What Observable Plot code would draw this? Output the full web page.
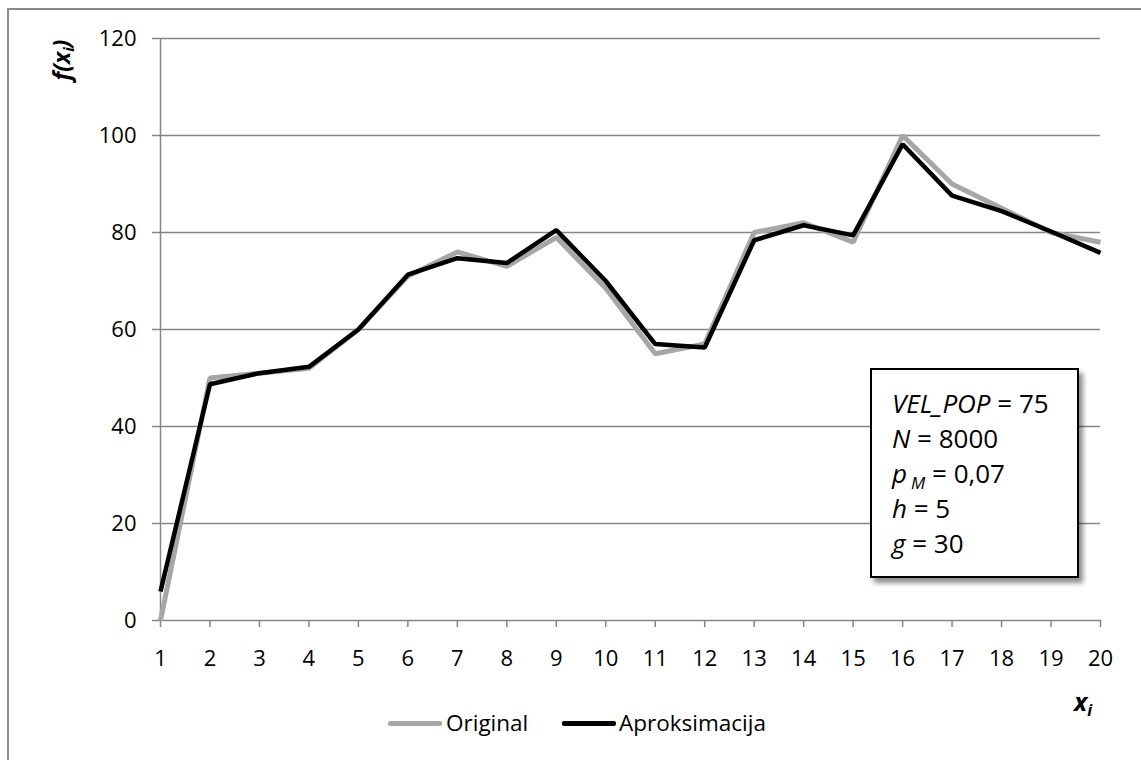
<!DOCTYPE html>
<html>
<head>
<meta charset="utf-8">
<script src="https://cdn.jsdelivr.net/npm/d3@7"></script>
<script src="https://cdn.jsdelivr.net/npm/@observablehq/plot@0.6"></script>
<style>
  html, body { margin: 0; padding: 0; background: #fff; }
  #wrap { position: relative; width: 1141px; height: 760px; overflow: hidden; font-family: "Open Sans", sans-serif; }
  #border { position: absolute; left: 7px; top: 8px; width: 1200px; height: 800px; border-left: 2px solid #8a8a8a; border-top: 2px solid #8a8a8a; }
  #chart { position: absolute; left: 0; top: 0; }
  .ylab { position: absolute; left: 61px; top: 60px; transform: translate(-50%, -50%) rotate(-90deg); font-weight: bold; font-style: italic; font-size: 23px; white-space: nowrap; color: #000; }
  .xlab { position: absolute; left: 1074px; top: 684px; font-weight: bold; font-style: italic; font-size: 25px; color: #000; }
  sub { font-size: 65%; vertical-align: -0.3em; line-height: 0; }
  #info .pm { display: inline-block; line-height: 26px; }
  #info .sm { display: inline-block; font-size: 17px; line-height: 17px; vertical-align: -6px; margin-left: 4px; font-style: italic; }
  #info { position: absolute; left: 870px; top: 368px; width: 205px; height: 206px; border: 2px solid #000; background: #fff; box-shadow: 4px 5px 5px rgba(0,0,0,0.45); box-sizing: content-box; }
  #info div { font-size: 26px; line-height: 35px; padding-left: 20px; white-space: nowrap; color: #000; }
  #info div:first-child { margin-top: 16px; }
  .leg { position: absolute; top: 708px; font-size: 22.5px; color: #000; line-height: 30px; }
  .sw { position: absolute; top: 721px; width: 54px; height: 5px; border-radius: 2px; }
</style>
</head>
<body>
<div id="wrap">
  <div id="border"></div>
  <div id="chart"></div>
  <div class="ylab">f(x<sub>i</sub>)</div>
  <div class="xlab">x<sub>i</sub></div>
  <div id="info">
    <div><i>VEL_POP</i> = 75</div>
    <div><i>N</i> = 8000</div>
    <div><i class="pm">p</i><span class="sm">M</span> = 0,07</div>
    <div><i>h</i> = 5</div>
    <div><i>g</i> = 30</div>
  </div>
  <span class="sw" style="left:388px;background:#a6a6a6"></span><span class="leg" style="left:446px">Original</span>
  <span class="sw" style="left:562px;background:#000"></span><span class="leg" style="left:619px">Aproksimacija</span>
</div>
<script>
const xValues = [1, 2, 3, 4, 5, 6, 7, 8, 9, 10, 11, 12, 13, 14, 15, 16, 17, 18, 19, 20];
const original = [0, 50, 51, 52, 60, 71, 76, 73, 79, 68.5, 55, 57, 80, 82, 78, 100, 90, 85, 80, 78];
const aproksimacija = [6, 48.7, 51, 52.3, 60, 71.3, 74.7, 73.7, 80.5, 70, 57, 56.3, 78.4, 81.5, 79.4, 98.2, 87.6, 84.4, 80.2, 75.8];
const yTicks = [0, 20, 40, 60, 80, 100, 120];
const xTicks = xValues;

const rowsO = xValues.map((x, i) => ({x, y: original[i]}));
const rowsA = xValues.map((x, i) => ({x, y: aproksimacija[i]}));

const grey = "#868686";
const chart = Plot.plot({
  width: 1141,
  height: 760,
  marginLeft: 160,
  marginRight: 41,
  marginTop: 38,
  marginBottom: 140,
  style: { fontFamily: "Open Sans", fontSize: "22px", color: "#000", background: "transparent", overflow: "visible" },
  x: { domain: [1, 20], label: null },
  y: { domain: [0, 120], label: null },
  marks: [
    Plot.ruleY(yTicks.filter(d => d > 0), { x1: 1, x2: 20, stroke: grey, strokeWidth: 1.5 }),
    Plot.ruleX([1], { y1: 0, y2: 120, stroke: grey, strokeWidth: 1.5 }),
    Plot.ruleY([0], { x1: 1, x2: 20, stroke: grey, strokeWidth: 1.5 }),
    Plot.axisY({ ticks: yTicks, tickSize: 8, tickPadding: 16, fontSize: 22, stroke: grey, strokeWidth: 1.5, strokeOpacity: 1, label: null, tickFormat: d => String(d) }),
    Plot.axisX({ ticks: xTicks, tickSize: 7, tickPadding: 23, fontSize: 22, stroke: grey, strokeWidth: 1.5, strokeOpacity: 1, label: null, tickFormat: d => String(d) }),
    Plot.line(rowsO, { x: "x", y: "y", stroke: "#a6a6a6", strokeWidth: 5, strokeLinejoin: "miter", strokeLinecap: "butt" }),
    Plot.line(rowsA, { x: "x", y: "y", stroke: "#000", strokeWidth: 4.5, strokeLinejoin: "miter", strokeLinecap: "butt" })
  ]
});
document.getElementById("chart").appendChild(chart);
</script>
</body>
</html>
